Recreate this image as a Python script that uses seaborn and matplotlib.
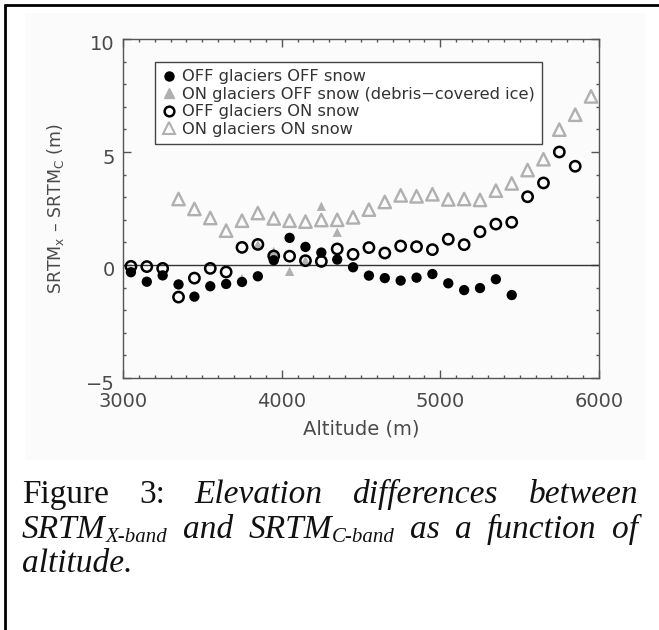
import matplotlib
matplotlib.use("Agg")
import matplotlib.pyplot as plt
import matplotlib.transforms as mtransforms
import seaborn as sns
from matplotlib.lines import Line2D
from matplotlib.patches import Rectangle
from matplotlib.ticker import MultipleLocator

# ---------------- data ----------------
alt_off_off = [3050, 3150, 3250, 3350, 3450, 3550, 3650, 3750, 3850, 3950, 4050, 4150, 4250,
               4350, 4450, 4550, 4650, 4750, 4850, 4950, 5050, 5150, 5250, 5350, 5450]
d_off_off = [-0.32, -0.74, -0.46, -0.86, -1.40, -0.94, -0.84, -0.75, -0.50, 0.21, 1.20, 0.80, 0.55,
             0.24, -0.10, -0.47, -0.58, -0.69, -0.56, -0.40, -0.81, -1.11, -1.02, -0.63, -1.33]

alt_on_off = [3750, 3850, 3950, 4050, 4150, 4250, 4350]
d_on_off = [-0.60, 0.90, 0.60, -0.28, 0.20, 2.60, 1.45]

alt_off_on = [3050, 3150, 3250, 3350, 3450, 3550, 3650, 3750, 3850, 3950, 4050, 4150, 4250, 4350, 4450,
              4550, 4650, 4750, 4850, 4950, 5050, 5150, 5250, 5350, 5450, 5550, 5650, 5750, 5850]
d_off_on = [-0.06, -0.07, -0.15, -1.42, -0.58, -0.15, -0.31, 0.78, 0.91, 0.40, 0.39, 0.19, 0.16, 0.71, 0.47,
            0.77, 0.53, 0.84, 0.81, 0.68, 1.14, 0.90, 1.47, 1.81, 1.89, 3.02, 3.63, 5.00, 4.37]

alt_on_on = [3350, 3450, 3550, 3650, 3750, 3850, 3950, 4050, 4150, 4250, 4350, 4450, 4550, 4650,
             4750, 4850, 4950, 5050, 5150, 5250, 5350, 5450, 5550, 5650, 5750, 5850, 5950]
d_on_on = [2.92, 2.48, 2.08, 1.52, 1.96, 2.30, 2.06, 1.96, 1.92, 1.99, 2.00, 2.11, 2.45, 2.79,
           3.08, 3.04, 3.13, 2.90, 2.92, 2.88, 3.29, 3.61, 4.20, 4.68, 5.99, 6.65, 7.46]

legend_labels = ["OFF glaciers OFF snow",
                 "ON glaciers OFF snow (debris\u2212covered ice)",
                 "OFF glaciers ON snow",
                 "ON glaciers ON snow"]
x_label = "Altitude (m)"
y_label = "SRTM$_\\mathregular{x}$ \u2013 SRTM$_\\mathregular{C}$ (m)"

# ---------------- style ----------------
sns.set_theme(style="ticks")
plt.rcParams["font.family"] = ["DejaVu Sans"]
plt.rcParams["mathtext.default"] = "regular"
TXT = "#4a4a4a"
AXC = "#555555"
GRAY = "#b0b0b0"

W, H = 659, 630
fig = plt.figure(figsize=(W / 100, H / 100), dpi=100)
fig.patch.set_facecolor("white")


def fx(px):
    return px / W


def fy(py):
    return 1 - py / H


# faint background of the pasted plot image
fig.patches.append(Rectangle((fx(25), fy(460)), (645 - 25) / W, (460 - 13) / H,
                             transform=fig.transFigure, facecolor="#fbfbfb",
                             edgecolor="none", zorder=-5))
# page frame lines (left and top)
fig.lines.append(Line2D([fx(5), fx(5)], [fy(5), 0], transform=fig.transFigure,
                        color="black", lw=2, zorder=-4))
fig.lines.append(Line2D([fx(5), 1], [fy(5), fy(5)], transform=fig.transFigure,
                        color="black", lw=2, zorder=-4))

ax = fig.add_axes([fx(123), fy(378), (599 - 123) / W, (378 - 39) / H])
ax.set_facecolor("none")
ax.set_zorder(2)

ax.axhline(0, color="#333333", lw=1.0, zorder=1)

# ON glaciers OFF snow (filled gray triangles)
sns.scatterplot(x=alt_on_off, y=d_on_off, ax=ax, marker="^", s=45, color=GRAY,
                edgecolor="none", linewidth=0, legend=False, zorder=2)
# ON glaciers ON snow (open gray triangles)
sns.scatterplot(x=alt_on_on, y=d_on_on, ax=ax, marker="^", s=80, legend=False, zorder=2)
c = ax.collections[-1]
c.set_facecolor("none")
c.set_edgecolor(GRAY)
c.set_linewidth(1.7)
# OFF glaciers OFF snow (filled black circles)
sns.scatterplot(x=alt_off_off, y=d_off_off, ax=ax, marker="o", s=55, color="black",
                edgecolor="none", linewidth=0, legend=False, zorder=3)
# OFF glaciers ON snow (open black circles)
sns.scatterplot(x=alt_off_on, y=d_off_on, ax=ax, marker="o", s=55, legend=False, zorder=4)
c = ax.collections[-1]
c.set_facecolor("none")
c.set_edgecolor("black")
c.set_linewidth(1.8)

ax.set_xlim(3000, 6000)
ax.set_ylim(-5, 10)
ax.xaxis.set_major_locator(MultipleLocator(1000))
ax.xaxis.set_minor_locator(MultipleLocator(100))
ax.yaxis.set_major_locator(MultipleLocator(5))
ax.yaxis.set_minor_locator(MultipleLocator(1))
ax.tick_params(which="both", direction="in", top=True, right=True, color=AXC,
               labelcolor=TXT, width=1.0)
ax.tick_params(which="major", length=5.5, labelsize=14)
ax.tick_params(axis="x", which="major", pad=10)
ax.tick_params(axis="y", which="major", pad=6)
ax.tick_params(which="minor", length=2.5)
for sp in ax.spines.values():
    sp.set_color(AXC)
    sp.set_linewidth(1.0)

# y tick labels sit a few pixels below their ticks in the original
shift = mtransforms.ScaledTranslation(0, -4 / 100, fig.dpi_scale_trans)
for tk in ax.yaxis.get_major_ticks():
    tk.label1.set_transform(tk.label1.get_transform() + shift)

ax.set_xlabel(x_label, fontsize=14, color=TXT)
ax.set_ylabel(y_label, fontsize=12.5, color=TXT)
ax.xaxis.set_label_coords(0.5, -0.123)
ax.yaxis.set_label_coords(-0.12, 0.5)

handles = [
    Line2D([], [], ls="none", marker="o", mfc="black", mec="black", ms=6.5),
    Line2D([], [], ls="none", marker="^", mfc=GRAY, mec=GRAY, ms=6.5),
    Line2D([], [], ls="none", marker="o", mfc="none", mec="black", mew=1.8, ms=7),
    Line2D([], [], ls="none", marker="^", mfc="none", mec=GRAY, mew=1.5, ms=8),
]
leg = ax.legend(handles, legend_labels, loc="upper left",
                bbox_to_anchor=(fx(155), fy(62)), bbox_transform=fig.transFigure,
                frameon=True, fancybox=False, edgecolor="#444444", facecolor="white",
                framealpha=1, fontsize=11.7, handlelength=0.8, handletextpad=0.4,
                borderpad=0.45, labelspacing=0.15, borderaxespad=0)
leg.get_frame().set_linewidth(1.0)
for t in leg.get_texts():
    t.set_color("#333333")

# ---------------- caption (justified) ----------------
SERIF = "Liberation Serif"
MAIN = 24
SUB = 15
renderer = fig.canvas.get_renderer()

up = dict(family=SERIF, size=MAIN, style="normal")
it = dict(family=SERIF, size=MAIN, style="italic")
itsub = dict(family=SERIF, size=SUB, style="italic")

line1 = [[("Figure", up, 0)], [("3:", up, 0)], [("Elevation", it, 0)],
         [("differences", it, 0)], [("between", it, 0)]]
line2 = [[("SRTM", it, 0), ("X-band", itsub, -4)], [("and", it, 0)],
         [("SRTM", it, 0), ("C-band", itsub, -4)], [("as", it, 0)], [("a", it, 0)],
         [("function", it, 0)], [("of", it, 0)]]
line3 = [[("altitude.", it, 0)]]


def place(words, base_px, left=22, right=638, justify=True):
    objs = []
    widths = []
    for w in words:
        segs = []
        tot = 0
        for txt, kw, dy in w:
            t = fig.text(0, 0, txt, va="baseline", ha="left", color="#111111", **kw)
            wd = t.get_window_extent(renderer).width
            segs.append((t, wd, dy))
            tot += wd
        objs.append(segs)
        widths.append(tot)
    if justify and len(words) > 1:
        gap = (right - left - sum(widths)) / (len(words) - 1)
    else:
        gap = 7
    x = left
    for segs, wd in zip(objs, widths):
        xx = x
        for t, sw, dy in segs:
            t.set_position((fx(xx), fy(base_px - dy)))
            xx += sw
        x += wd + gap


place(line1, 503)
place(line2, 538)
place(line3, 572, justify=False)

fig.savefig("out.png", dpi=100)
